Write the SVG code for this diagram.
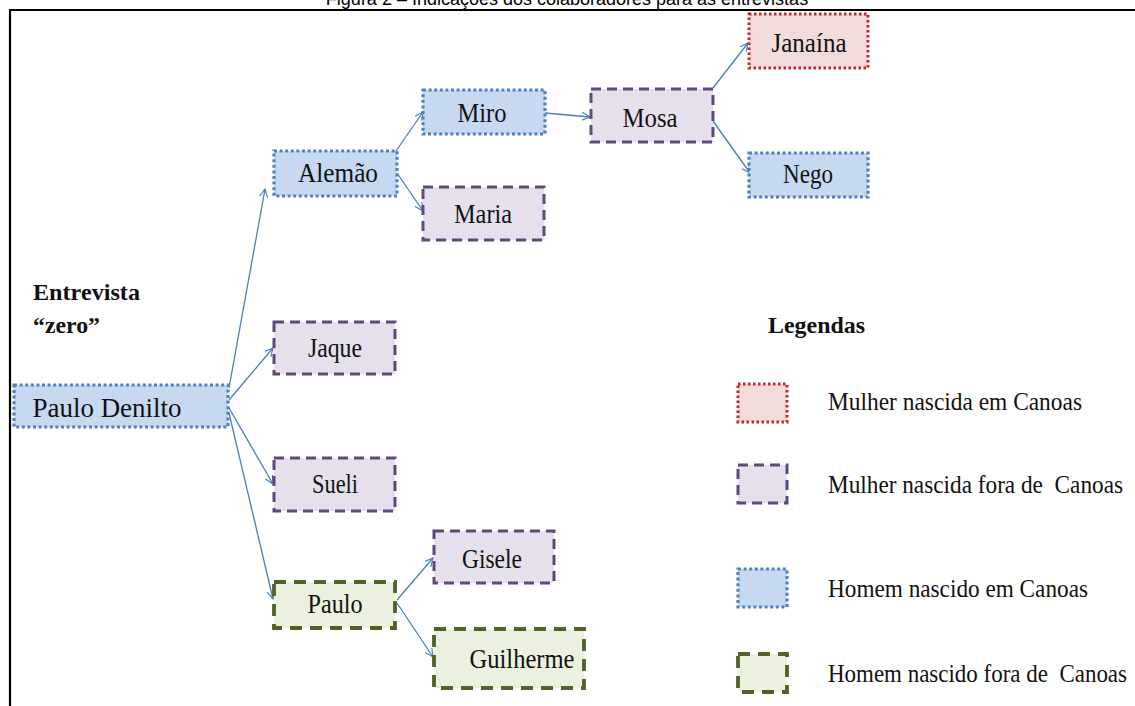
<svg xmlns="http://www.w3.org/2000/svg" width="1135" height="706" viewBox="0 0 1135 706">
<defs>
<style>
.bg{fill:#ffffff}
.frame{stroke:#000;stroke-width:2.2;fill:none}
.title{font-family:"Liberation Sans",Arial,sans-serif;font-size:18px;fill:#000}
.lbl{font-family:"Liberation Serif","Times New Roman",serif;font-size:27px;fill:#111;text-anchor:middle}
.leg{font-family:"Liberation Serif","Times New Roman",serif;font-size:25px;fill:#111}
.bold{font-family:"Liberation Serif","Times New Roman",serif;font-size:23px;font-weight:bold;fill:#111}
.hb{fill:#c6d9f1;stroke:#4f81bd;stroke-width:3.2;stroke-dasharray:3 2.6}
.mf{fill:#e5e0ec;stroke:#5f497a;stroke-width:3;stroke-dasharray:10 6}
.mb{fill:#f2dcdb;stroke:#c0282d;stroke-width:3;stroke-dasharray:2.5 2.5}
.hf{fill:#ebf1de;stroke:#4f6228;stroke-width:3.8;stroke-dasharray:12 8}
.conn{stroke:#4a7ebb;stroke-width:1.3;fill:none;marker-end:url(#arr)}
</style>
<marker id="arr" viewBox="0 0 10 10" refX="9" refY="5" markerWidth="9" markerHeight="9" orient="auto" markerUnits="userSpaceOnUse">
<path d="M0,0.5 L9,5 L0,9.5" fill="none" stroke="#4a7ebb" stroke-width="1.3"/>
</marker>
</defs>
<rect class="bg" x="0" y="0" width="1135" height="706"/>
<text class="title" x="567" y="5" text-anchor="middle">Figura 2 – Indicações dos colaboradores para as entrevistas</text>
<path class="frame" d="M10,706 L10,10 L1135,10"/>

<g id="connectors">
<line class="conn" x1="229" y1="388" x2="265" y2="189"/>
<line class="conn" x1="229" y1="400" x2="273" y2="348"/>
<line class="conn" x1="229" y1="408" x2="273" y2="484"/>
<line class="conn" x1="229" y1="413" x2="273" y2="599"/>
<line class="conn" x1="396" y1="151" x2="423" y2="112"/>
<line class="conn" x1="397" y1="173" x2="423" y2="211"/>
<line class="conn" x1="545" y1="113" x2="590" y2="117"/>
<line class="conn" x1="713" y1="88" x2="748" y2="43"/>
<line class="conn" x1="713" y1="121" x2="750" y2="173"/>
<line class="conn" x1="397" y1="600" x2="433" y2="558"/>
<line class="conn" x1="397" y1="603" x2="433" y2="657"/>
</g>

<g id="node-paulo-denilto"><rect class="hb" x="14" y="385" width="214" height="42"/><text class="lbl" x="107" y="417" textLength="149" lengthAdjust="spacingAndGlyphs">Paulo Denilto</text></g>
<g id="node-alemao"><rect class="hb" x="274" y="151" width="123" height="45"/><text class="lbl" x="338" y="182" textLength="80" lengthAdjust="spacingAndGlyphs">Alemão</text></g>
<g id="node-miro"><rect class="hb" x="423" y="90" width="122" height="44"/><text class="lbl" x="482" y="122" textLength="49" lengthAdjust="spacingAndGlyphs">Miro</text></g>
<g id="node-maria"><rect class="mf" x="423" y="187" width="121" height="53"/><text class="lbl" x="483" y="223" textLength="58" lengthAdjust="spacingAndGlyphs">Maria</text></g>
<g id="node-mosa"><rect class="mf" x="591" y="89" width="122" height="53"/><text class="lbl" x="650" y="127" textLength="55" lengthAdjust="spacingAndGlyphs">Mosa</text></g>
<g id="node-janaina"><rect class="mb" x="749" y="14" width="119" height="54"/><text class="lbl" x="809" y="52" textLength="75" lengthAdjust="spacingAndGlyphs">Janaína</text></g>
<g id="node-nego"><rect class="hb" x="749" y="153" width="119" height="44"/><text class="lbl" x="808" y="183" textLength="50" lengthAdjust="spacingAndGlyphs">Nego</text></g>
<g id="node-jaque"><rect class="mf" x="274" y="322" width="121" height="52"/><text class="lbl" x="335" y="357" textLength="54" lengthAdjust="spacingAndGlyphs">Jaque</text></g>
<g id="node-sueli"><rect class="mf" x="274" y="458" width="121" height="53"/><text class="lbl" x="335" y="493" textLength="46" lengthAdjust="spacingAndGlyphs">Sueli</text></g>
<g id="node-paulo"><rect class="hf" x="274" y="582" width="121" height="46"/><text class="lbl" x="335" y="613" textLength="55" lengthAdjust="spacingAndGlyphs">Paulo</text></g>
<g id="node-gisele"><rect class="mf" x="434" y="531" width="120" height="52"/><text class="lbl" x="492" y="568" textLength="60" lengthAdjust="spacingAndGlyphs">Gisele</text></g>
<g id="node-guilherme"><rect class="hf" x="434" y="629" width="150" height="59"/><text class="lbl" x="522" y="668" textLength="105" lengthAdjust="spacingAndGlyphs">Guilherme</text></g>

<g id="label-entrevista">
<text class="bold" x="33" y="300" textLength="107" lengthAdjust="spacingAndGlyphs">Entrevista</text>
<text class="bold" x="33" y="333" textLength="67" lengthAdjust="spacingAndGlyphs">“zero”</text>
</g>

<g id="legend">
<text class="bold" x="768" y="333" textLength="97" lengthAdjust="spacingAndGlyphs">Legendas</text>
<rect class="mb" x="738" y="384" width="49" height="38"/>
<text class="leg" x="828" y="410" textLength="254" lengthAdjust="spacingAndGlyphs">Mulher nascida em Canoas</text>
<rect class="mf" x="738" y="465" width="49" height="38"/>
<text class="leg" x="828" y="493" textLength="295" lengthAdjust="spacingAndGlyphs">Mulher nascida fora de&#160; Canoas</text>
<rect class="hb" x="738" y="569" width="49" height="38"/>
<text class="leg" x="828" y="597" textLength="260" lengthAdjust="spacingAndGlyphs">Homem nascido em Canoas</text>
<rect class="hf" x="738" y="654" width="49" height="38"/>
<text class="leg" x="828" y="682" textLength="299" lengthAdjust="spacingAndGlyphs">Homem nascido fora de&#160; Canoas</text>
</g>
</svg>
